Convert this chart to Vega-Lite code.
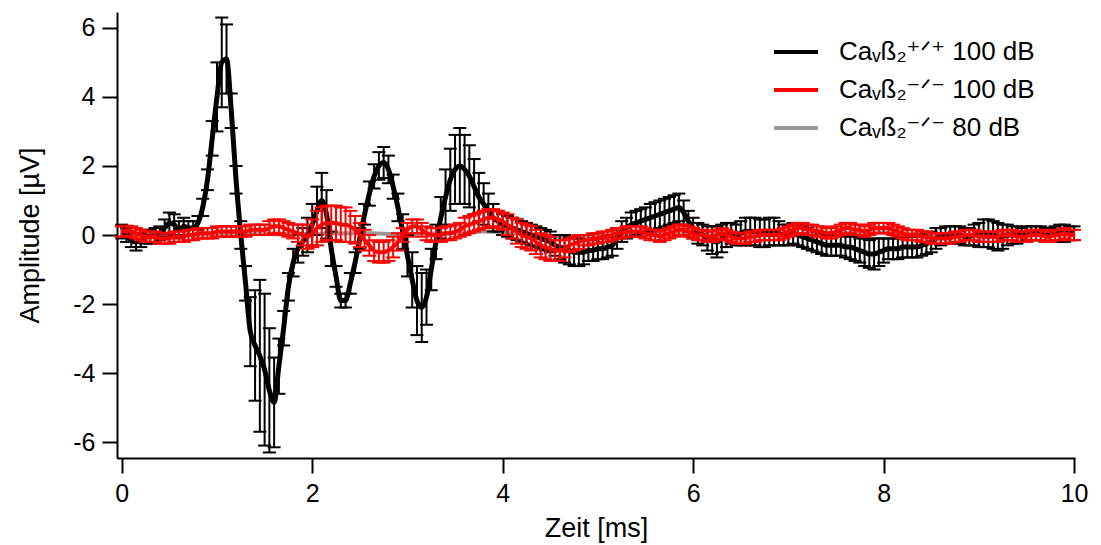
{
"$schema": "https://vega.github.io/schema/vega-lite/v6.json",
"width": 958, "height": 446,
"autosize": {"type": "none"},
"padding": {"left": 117, "top": 12, "right": 26, "bottom": 87},
"background": "white",
"config": {
 "view": {"stroke": null},
 "font": "Liberation Sans",
 "axis": {"domainColor": "#000", "domainWidth": 2, "tickColor": "#000", "tickWidth": 2, "tickSize": 15, "labelFontSize": 25, "labelColor": "#000", "titleFontSize": 27, "titleFontWeight": "normal", "titleColor": "#000", "grid": false, "labelFont": "Liberation Sans", "titleFont": "Liberation Sans", "labelExpr": "'' + datum.value"},
 "legend": {"labelFont": "Liberation Sans, DejaVu Sans"}
},
"datasets": {
 "black": [
{"t":0,"y":0.1,"e":0.2},{"t":0.05,"y":0,"e":0.2},{"t":0.1,"y":-0.15,"e":0.2},{"t":0.15,"y":-0.2,"e":0.25},{"t":0.2,"y":-0.15,"e":0.2},{"t":0.25,"y":-0.05,"e":0.2},{"t":0.3,"y":-0.05,"e":0.2},{"t":0.35,"y":0,"e":0.2},{"t":0.4,"y":0.05,"e":0.2},{"t":0.45,"y":0.2,"e":0.25},
{"t":0.5,"y":0.35,"e":0.3},{"t":0.55,"y":0.3,"e":0.3},{"t":0.6,"y":0.15,"e":0.25},{"t":0.65,"y":0.25,"e":0.25},{"t":0.7,"y":0.2,"e":0.2},{"t":0.75,"y":0.2,"e":0.2},{"t":0.8,"y":0.35,"e":0.2},{"t":0.85,"y":0.8,"e":0.25},{"t":0.9,"y":1.6,"e":0.3},{"t":0.95,"y":2.8,"e":0.5},
{"t":1,"y":4,"e":1},{"t":1.05,"y":5,"e":1.3},{"t":1.1,"y":5.1,"e":1},{"t":1.15,"y":3.6,"e":0.5},{"t":1.2,"y":1.6,"e":0.4},{"t":1.25,"y":0,"e":0.4},{"t":1.3,"y":-1.4,"e":0.5},{"t":1.35,"y":-2.8,"e":1},{"t":1.4,"y":-3.2,"e":1.6},{"t":1.45,"y":-3.5,"e":2.2},
{"t":1.5,"y":-3.9,"e":2.2},{"t":1.55,"y":-4.5,"e":1.8},{"t":1.6,"y":-4.85,"e":1.3},{"t":1.65,"y":-3.8,"e":0.8},{"t":1.7,"y":-2.7,"e":0.5},{"t":1.75,"y":-1.5,"e":0.4},{"t":1.8,"y":-0.8,"e":0.4},{"t":1.85,"y":-0.4,"e":0.4},{"t":1.9,"y":-0.2,"e":0.4},{"t":1.95,"y":0,"e":0.5},
{"t":2,"y":0.3,"e":0.6},{"t":2.05,"y":0.7,"e":0.7},{"t":2.1,"y":1,"e":0.8},{"t":2.15,"y":0.6,"e":0.7},{"t":2.2,"y":-0.4,"e":0.5},{"t":2.25,"y":-1.2,"e":0.3},{"t":2.3,"y":-1.9,"e":0.2},{"t":2.35,"y":-1.9,"e":0.2},{"t":2.4,"y":-1.4,"e":0.3},{"t":2.45,"y":-0.8,"e":0.3},
{"t":2.5,"y":-0.1,"e":0.3},{"t":2.55,"y":0.6,"e":0.3},{"t":2.6,"y":1.2,"e":0.35},{"t":2.65,"y":1.7,"e":0.35},{"t":2.7,"y":2,"e":0.4},{"t":2.75,"y":2.1,"e":0.45},{"t":2.8,"y":1.9,"e":0.4},{"t":2.85,"y":1.4,"e":0.35},{"t":2.9,"y":0.8,"e":0.4},{"t":2.95,"y":0.1,"e":0.5},
{"t":3,"y":-0.6,"e":0.6},{"t":3.05,"y":-1.3,"e":0.8},{"t":3.1,"y":-1.9,"e":1},{"t":3.15,"y":-2.1,"e":1},{"t":3.2,"y":-1.8,"e":0.8},{"t":3.25,"y":-1,"e":0.6},{"t":3.3,"y":-0.2,"e":0.5},{"t":3.35,"y":0.5,"e":0.6},{"t":3.4,"y":1.1,"e":0.8},{"t":3.45,"y":1.6,"e":0.9},
{"t":3.5,"y":1.9,"e":1},{"t":3.55,"y":2,"e":1.1},{"t":3.6,"y":1.9,"e":1},{"t":3.65,"y":1.7,"e":0.9},{"t":3.7,"y":1.4,"e":0.8},{"t":3.75,"y":1.1,"e":0.7},{"t":3.8,"y":0.9,"e":0.6},{"t":3.85,"y":0.7,"e":0.5},{"t":3.9,"y":0.5,"e":0.4},{"t":3.95,"y":0.4,"e":0.3},
{"t":4,"y":0.3,"e":0.3},{"t":4.05,"y":0.25,"e":0.3},{"t":4.1,"y":0.2,"e":0.3},{"t":4.15,"y":0.15,"e":0.3},{"t":4.2,"y":0.1,"e":0.3},{"t":4.25,"y":0.05,"e":0.3},{"t":4.3,"y":0,"e":0.3},{"t":4.35,"y":-0.05,"e":0.3},{"t":4.4,"y":-0.1,"e":0.3},{"t":4.45,"y":-0.15,"e":0.3},
{"t":4.5,"y":-0.2,"e":0.3},{"t":4.55,"y":-0.3,"e":0.3},{"t":4.6,"y":-0.35,"e":0.35},{"t":4.65,"y":-0.4,"e":0.4},{"t":4.7,"y":-0.45,"e":0.4},{"t":4.75,"y":-0.5,"e":0.4},{"t":4.8,"y":-0.5,"e":0.4},{"t":4.85,"y":-0.5,"e":0.35},{"t":4.9,"y":-0.45,"e":0.3},{"t":4.95,"y":-0.45,"e":0.3},
{"t":5,"y":-0.4,"e":0.3},{"t":5.05,"y":-0.4,"e":0.3},{"t":5.1,"y":-0.35,"e":0.3},{"t":5.15,"y":-0.3,"e":0.3},{"t":5.2,"y":-0.1,"e":0.3},{"t":5.25,"y":0.1,"e":0.3},{"t":5.3,"y":0.2,"e":0.3},{"t":5.35,"y":0.3,"e":0.35},{"t":5.4,"y":0.35,"e":0.35},{"t":5.45,"y":0.4,"e":0.35},
{"t":5.5,"y":0.45,"e":0.35},{"t":5.55,"y":0.5,"e":0.4},{"t":5.6,"y":0.55,"e":0.4},{"t":5.65,"y":0.6,"e":0.4},{"t":5.7,"y":0.65,"e":0.4},{"t":5.75,"y":0.7,"e":0.4},{"t":5.8,"y":0.75,"e":0.4},{"t":5.85,"y":0.8,"e":0.4},{"t":5.9,"y":0.65,"e":0.35},{"t":5.95,"y":0.4,"e":0.3},
{"t":6,"y":0.2,"e":0.3},{"t":6.05,"y":0.05,"e":0.3},{"t":6.1,"y":0,"e":0.3},{"t":6.15,"y":-0.1,"e":0.35},{"t":6.2,"y":-0.15,"e":0.4},{"t":6.25,"y":-0.2,"e":0.45},{"t":6.3,"y":-0.1,"e":0.4},{"t":6.35,"y":0,"e":0.35},{"t":6.4,"y":0.05,"e":0.3},{"t":6.45,"y":0,"e":0.3},
{"t":6.5,"y":0.05,"e":0.35},{"t":6.55,"y":0.1,"e":0.4},{"t":6.6,"y":0.1,"e":0.4},{"t":6.65,"y":0.1,"e":0.4},{"t":6.7,"y":0.05,"e":0.4},{"t":6.75,"y":0.05,"e":0.4},{"t":6.8,"y":0.1,"e":0.4},{"t":6.85,"y":0.1,"e":0.4},{"t":6.9,"y":0.05,"e":0.35},{"t":6.95,"y":0,"e":0.3},
{"t":7,"y":0,"e":0.3},{"t":7.05,"y":0.05,"e":0.3},{"t":7.1,"y":0,"e":0.3},{"t":7.15,"y":-0.05,"e":0.3},{"t":7.2,"y":-0.1,"e":0.3},{"t":7.25,"y":-0.15,"e":0.3},{"t":7.3,"y":-0.2,"e":0.3},{"t":7.35,"y":-0.25,"e":0.3},{"t":7.4,"y":-0.3,"e":0.3},{"t":7.45,"y":-0.3,"e":0.3},
{"t":7.5,"y":-0.3,"e":0.3},{"t":7.55,"y":-0.3,"e":0.3},{"t":7.6,"y":-0.35,"e":0.3},{"t":7.65,"y":-0.35,"e":0.35},{"t":7.7,"y":-0.4,"e":0.35},{"t":7.75,"y":-0.45,"e":0.35},{"t":7.8,"y":-0.5,"e":0.4},{"t":7.85,"y":-0.55,"e":0.4},{"t":7.9,"y":-0.55,"e":0.45},{"t":7.95,"y":-0.5,"e":0.4},
{"t":8,"y":-0.45,"e":0.35},{"t":8.05,"y":-0.4,"e":0.3},{"t":8.1,"y":-0.4,"e":0.3},{"t":8.15,"y":-0.4,"e":0.3},{"t":8.2,"y":-0.35,"e":0.3},{"t":8.25,"y":-0.35,"e":0.3},{"t":8.3,"y":-0.35,"e":0.3},{"t":8.35,"y":-0.35,"e":0.3},{"t":8.4,"y":-0.3,"e":0.3},{"t":8.45,"y":-0.25,"e":0.3},
{"t":8.5,"y":-0.2,"e":0.3},{"t":8.55,"y":-0.1,"e":0.3},{"t":8.6,"y":-0.05,"e":0.25},{"t":8.65,"y":0,"e":0.25},{"t":8.7,"y":0,"e":0.25},{"t":8.75,"y":0,"e":0.25},{"t":8.8,"y":0,"e":0.25},{"t":8.85,"y":-0.05,"e":0.25},{"t":8.9,"y":-0.05,"e":0.25},{"t":8.95,"y":0,"e":0.3},
{"t":9,"y":0,"e":0.35},{"t":9.05,"y":0.05,"e":0.4},{"t":9.1,"y":0.05,"e":0.4},{"t":9.15,"y":0,"e":0.4},{"t":9.2,"y":-0.05,"e":0.4},{"t":9.25,"y":-0.05,"e":0.35},{"t":9.3,"y":0,"e":0.3},{"t":9.35,"y":0,"e":0.25},{"t":9.4,"y":0,"e":0.25},{"t":9.45,"y":0,"e":0.2},
{"t":9.5,"y":0.05,"e":0.2},{"t":9.55,"y":0.05,"e":0.2},{"t":9.6,"y":0.05,"e":0.2},{"t":9.65,"y":0.05,"e":0.2},{"t":9.7,"y":0,"e":0.2},{"t":9.75,"y":0,"e":0.2},{"t":9.8,"y":0.05,"e":0.2},{"t":9.85,"y":0.05,"e":0.25},{"t":9.9,"y":0.05,"e":0.25},{"t":9.95,"y":0.05,"e":0.2},
{"t":10,"y":0.05,"e":0.2}
 ],
 "red": [
{"t":0,"y":0.1,"e":0.15},{"t":0.05,"y":0.12,"e":0.15},{"t":0.1,"y":0.1,"e":0.15},{"t":0.15,"y":0.05,"e":0.15},{"t":0.2,"y":0,"e":0.15},{"t":0.25,"y":-0.05,"e":0.15},{"t":0.3,"y":-0.05,"e":0.15},{"t":0.35,"y":-0.05,"e":0.15},{"t":0.4,"y":-0.1,"e":0.15},{"t":0.45,"y":-0.1,"e":0.15},
{"t":0.5,"y":-0.1,"e":0.15},{"t":0.55,"y":-0.05,"e":0.15},{"t":0.6,"y":-0.05,"e":0.15},{"t":0.65,"y":-0.05,"e":0.15},{"t":0.7,"y":0,"e":0.15},{"t":0.75,"y":0,"e":0.15},{"t":0.8,"y":0.05,"e":0.15},{"t":0.85,"y":0.05,"e":0.15},{"t":0.9,"y":0.05,"e":0.15},{"t":0.95,"y":0.05,"e":0.15},
{"t":1,"y":0.1,"e":0.15},{"t":1.05,"y":0.1,"e":0.15},{"t":1.1,"y":0.1,"e":0.15},{"t":1.15,"y":0.1,"e":0.15},{"t":1.2,"y":0.1,"e":0.15},{"t":1.25,"y":0.1,"e":0.15},{"t":1.3,"y":0.1,"e":0.15},{"t":1.35,"y":0.15,"e":0.15},{"t":1.4,"y":0.15,"e":0.15},{"t":1.45,"y":0.15,"e":0.15},
{"t":1.5,"y":0.15,"e":0.15},{"t":1.55,"y":0.2,"e":0.2},{"t":1.6,"y":0.25,"e":0.2},{"t":1.65,"y":0.25,"e":0.2},{"t":1.7,"y":0.2,"e":0.2},{"t":1.75,"y":0.15,"e":0.2},{"t":1.8,"y":0.1,"e":0.2},{"t":1.85,"y":0.05,"e":0.25},{"t":1.9,"y":0,"e":0.3},{"t":1.95,"y":-0.05,"e":0.35},
{"t":2,"y":0.05,"e":0.4},{"t":2.05,"y":0.2,"e":0.5},{"t":2.1,"y":0.3,"e":0.5},{"t":2.15,"y":0.35,"e":0.5},{"t":2.2,"y":0.35,"e":0.5},{"t":2.25,"y":0.35,"e":0.5},{"t":2.3,"y":0.3,"e":0.5},{"t":2.35,"y":0.3,"e":0.5},{"t":2.4,"y":0.25,"e":0.45},{"t":2.45,"y":0.15,"e":0.4},
{"t":2.5,"y":0,"e":0.35},{"t":2.55,"y":-0.15,"e":0.3},{"t":2.6,"y":-0.3,"e":0.3},{"t":2.65,"y":-0.45,"e":0.3},{"t":2.7,"y":-0.5,"e":0.3},{"t":2.75,"y":-0.5,"e":0.3},{"t":2.8,"y":-0.45,"e":0.3},{"t":2.85,"y":-0.35,"e":0.3},{"t":2.9,"y":-0.2,"e":0.25},{"t":2.95,"y":0,"e":0.2},
{"t":3,"y":0.15,"e":0.2},{"t":3.05,"y":0.25,"e":0.2},{"t":3.1,"y":0.25,"e":0.2},{"t":3.15,"y":0.15,"e":0.2},{"t":3.2,"y":0.05,"e":0.2},{"t":3.25,"y":0,"e":0.2},{"t":3.3,"y":0,"e":0.2},{"t":3.35,"y":0,"e":0.2},{"t":3.4,"y":0.05,"e":0.2},{"t":3.45,"y":0.05,"e":0.2},
{"t":3.5,"y":0.1,"e":0.2},{"t":3.55,"y":0.15,"e":0.2},{"t":3.6,"y":0.25,"e":0.25},{"t":3.65,"y":0.3,"e":0.25},{"t":3.7,"y":0.35,"e":0.25},{"t":3.75,"y":0.4,"e":0.25},{"t":3.8,"y":0.45,"e":0.25},{"t":3.85,"y":0.5,"e":0.25},{"t":3.9,"y":0.5,"e":0.25},{"t":3.95,"y":0.45,"e":0.25},
{"t":4,"y":0.4,"e":0.25},{"t":4.05,"y":0.3,"e":0.3},{"t":4.1,"y":0.2,"e":0.3},{"t":4.15,"y":0.1,"e":0.35},{"t":4.2,"y":0,"e":0.35},{"t":4.25,"y":-0.05,"e":0.35},{"t":4.3,"y":-0.1,"e":0.35},{"t":4.35,"y":-0.2,"e":0.35},{"t":4.4,"y":-0.3,"e":0.35},{"t":4.45,"y":-0.35,"e":0.35},
{"t":4.5,"y":-0.4,"e":0.35},{"t":4.55,"y":-0.45,"e":0.3},{"t":4.6,"y":-0.45,"e":0.3},{"t":4.65,"y":-0.4,"e":0.25},{"t":4.7,"y":-0.3,"e":0.2},{"t":4.75,"y":-0.25,"e":0.2},{"t":4.8,"y":-0.2,"e":0.2},{"t":4.85,"y":-0.15,"e":0.15},{"t":4.9,"y":-0.15,"e":0.15},{"t":4.95,"y":-0.1,"e":0.15},
{"t":5,"y":-0.1,"e":0.15},{"t":5.05,"y":-0.05,"e":0.15},{"t":5.1,"y":-0.05,"e":0.15},{"t":5.15,"y":0,"e":0.15},{"t":5.2,"y":0.05,"e":0.15},{"t":5.25,"y":0.05,"e":0.15},{"t":5.3,"y":0.1,"e":0.15},{"t":5.35,"y":0.1,"e":0.15},{"t":5.4,"y":0.1,"e":0.15},{"t":5.45,"y":0.1,"e":0.15},
{"t":5.5,"y":0.05,"e":0.15},{"t":5.55,"y":0,"e":0.15},{"t":5.6,"y":0,"e":0.15},{"t":5.65,"y":-0.05,"e":0.15},{"t":5.7,"y":0,"e":0.15},{"t":5.75,"y":0.05,"e":0.15},{"t":5.8,"y":0.1,"e":0.15},{"t":5.85,"y":0.15,"e":0.15},{"t":5.9,"y":0.15,"e":0.15},{"t":5.95,"y":0.1,"e":0.15},
{"t":6,"y":0.05,"e":0.15},{"t":6.05,"y":0,"e":0.15},{"t":6.1,"y":0,"e":0.15},{"t":6.15,"y":-0.05,"e":0.15},{"t":6.2,"y":-0.05,"e":0.15},{"t":6.25,"y":0,"e":0.15},{"t":6.3,"y":0.05,"e":0.15},{"t":6.35,"y":0,"e":0.15},{"t":6.4,"y":-0.05,"e":0.15},{"t":6.45,"y":-0.1,"e":0.15},
{"t":6.5,"y":-0.1,"e":0.15},{"t":6.55,"y":-0.1,"e":0.15},{"t":6.6,"y":-0.05,"e":0.15},{"t":6.65,"y":-0.05,"e":0.15},{"t":6.7,"y":0,"e":0.15},{"t":6.75,"y":0,"e":0.15},{"t":6.8,"y":0,"e":0.15},{"t":6.85,"y":0,"e":0.15},{"t":6.9,"y":0,"e":0.15},{"t":6.95,"y":0.05,"e":0.15},
{"t":7,"y":0.1,"e":0.15},{"t":7.05,"y":0.15,"e":0.15},{"t":7.1,"y":0.2,"e":0.15},{"t":7.15,"y":0.2,"e":0.15},{"t":7.2,"y":0.15,"e":0.15},{"t":7.25,"y":0.15,"e":0.15},{"t":7.3,"y":0.1,"e":0.15},{"t":7.35,"y":0.1,"e":0.15},{"t":7.4,"y":0.05,"e":0.15},{"t":7.45,"y":0.05,"e":0.15},
{"t":7.5,"y":0.1,"e":0.15},{"t":7.55,"y":0.15,"e":0.15},{"t":7.6,"y":0.2,"e":0.15},{"t":7.65,"y":0.2,"e":0.15},{"t":7.7,"y":0.15,"e":0.15},{"t":7.75,"y":0.15,"e":0.15},{"t":7.8,"y":0.1,"e":0.15},{"t":7.85,"y":0.15,"e":0.15},{"t":7.9,"y":0.2,"e":0.15},{"t":7.95,"y":0.2,"e":0.15},
{"t":8,"y":0.2,"e":0.15},{"t":8.05,"y":0.2,"e":0.15},{"t":8.1,"y":0.15,"e":0.15},{"t":8.15,"y":0.1,"e":0.15},{"t":8.2,"y":0.05,"e":0.15},{"t":8.25,"y":0,"e":0.15},{"t":8.3,"y":0,"e":0.15},{"t":8.35,"y":0,"e":0.15},{"t":8.4,"y":-0.05,"e":0.15},{"t":8.45,"y":-0.05,"e":0.15},
{"t":8.5,"y":-0.1,"e":0.15},{"t":8.55,"y":-0.1,"e":0.15},{"t":8.6,"y":-0.1,"e":0.15},{"t":8.65,"y":-0.1,"e":0.15},{"t":8.7,"y":-0.1,"e":0.15},{"t":8.75,"y":-0.05,"e":0.15},{"t":8.8,"y":-0.05,"e":0.15},{"t":8.85,"y":0,"e":0.15},{"t":8.9,"y":0,"e":0.15},{"t":8.95,"y":0,"e":0.15},
{"t":9,"y":-0.05,"e":0.15},{"t":9.05,"y":-0.05,"e":0.15},{"t":9.1,"y":-0.05,"e":0.15},{"t":9.15,"y":-0.05,"e":0.15},{"t":9.2,"y":-0.05,"e":0.15},{"t":9.25,"y":0,"e":0.15},{"t":9.3,"y":0,"e":0.15},{"t":9.35,"y":0,"e":0.15},{"t":9.4,"y":-0.05,"e":0.15},{"t":9.45,"y":-0.05,"e":0.15},
{"t":9.5,"y":-0.05,"e":0.15},{"t":9.55,"y":0,"e":0.15},{"t":9.6,"y":0,"e":0.15},{"t":9.65,"y":0,"e":0.15},{"t":9.7,"y":-0.05,"e":0.15},{"t":9.75,"y":-0.05,"e":0.15},{"t":9.8,"y":0,"e":0.15},{"t":9.85,"y":0,"e":0.15},{"t":9.9,"y":0.05,"e":0.15},{"t":9.95,"y":0,"e":0.15},
{"t":10,"y":0,"e":0.15}
 ],
 "grey": [
{"t":0,"y":0.05},{"t":0.2,"y":0.02},{"t":0.4,"y":-0.02},{"t":0.6,"y":-0.02},{"t":0.8,"y":0},{"t":1,"y":0.02},{"t":1.2,"y":0.03},{"t":1.4,"y":0.05},{"t":1.6,"y":0.05},{"t":1.8,"y":0.04},
{"t":2,"y":0.03},{"t":2.2,"y":0.04},{"t":2.4,"y":0.05},{"t":2.6,"y":0.05},{"t":2.8,"y":0.03},{"t":3,"y":0.03},{"t":3.2,"y":0.04},{"t":3.4,"y":0.05},{"t":3.6,"y":0.07},{"t":3.8,"y":0.1},
{"t":4,"y":0.08},{"t":4.2,"y":0.03},{"t":4.4,"y":-0.02},{"t":4.6,"y":-0.06},{"t":4.8,"y":-0.04},{"t":5,"y":-0.02},{"t":5.2,"y":0},{"t":5.4,"y":0.02},{"t":5.6,"y":0.03},{"t":5.8,"y":0.03},
{"t":6,"y":0.02},{"t":6.2,"y":0},{"t":6.4,"y":0},{"t":6.6,"y":0.02},{"t":6.8,"y":0.03},{"t":7,"y":0.03},{"t":7.2,"y":0.03},{"t":7.4,"y":0.04},{"t":7.6,"y":0.06},{"t":7.8,"y":0.08},
{"t":8,"y":0.08},{"t":8.2,"y":0.05},{"t":8.4,"y":0.02},{"t":8.6,"y":0},{"t":8.8,"y":0},{"t":9,"y":0.02},{"t":9.2,"y":0.05},{"t":9.4,"y":0.08},{"t":9.6,"y":0.07},{"t":9.8,"y":0.05},{"t":10,"y":0.05}
 ]
},
"encoding": {
 "x": {"field": "t", "type": "quantitative", "scale": {"domain": [-0.05, 10.01], "nice": false, "zero": false},
   "axis": {"values": [0, 2, 4, 6, 8, 10], "title": "Zeit [ms]", "labelPadding": 8, "titlePadding": 9, "labelFlush": false}},
 "y": {"field": "y", "type": "quantitative", "scale": {"domain": [-6.46, 6.46], "nice": false, "zero": false},
   "axis": {"values": [-6, -4, -2, 0, 2, 4, 6], "title": "Amplitude [µV]", "labelPadding": 7, "titlePadding": 28}}
},
"layer": [
 {"data": {"name": "grey"}, "mark": {"type": "line", "strokeWidth": 4, "interpolate": "monotone"},
  "encoding": {"color": {"datum": "Caᵥß₂⁻ᐟ⁻ 80 dB", "type": "nominal",
    "scale": {"domain": ["Caᵥß₂⁺ᐟ⁺ 100 dB", "Caᵥß₂⁻ᐟ⁻ 100 dB", "Caᵥß₂⁻ᐟ⁻ 80 dB"], "range": ["#000000", "#ff0000", "#999999"]},
    "legend": {"orient": "none", "legendX": 655, "legendY": 16, "title": null, "labelFontSize": 26, "labelLimit": 400, "labelColor": "#000", "symbolType": "stroke", "symbolStrokeWidth": 4, "symbolSize": 1936, "rowPadding": 1, "labelOffset": 19, "padding": 0}}}},
 {"data": {"name": "black"}, "mark": {"type": "errorbar", "color": "#000000", "opacity": 1, "thickness": 2, "rule": {"color": "#000000", "opacity": 1, "strokeWidth": 2}, "ticks": {"color": "#000000", "opacity": 1, "size": 13, "thickness": 2}},
  "encoding": {"yError": {"field": "e"}}},
 {"data": {"name": "black"}, "mark": {"type": "line", "strokeWidth": 5, "interpolate": "monotone"},
  "encoding": {"color": {"datum": "Caᵥß₂⁺ᐟ⁺ 100 dB", "type": "nominal"}}},
 {"data": {"name": "red"}, "mark": {"type": "errorbar", "color": "#ff0000", "opacity": 1, "thickness": 2, "rule": {"color": "#ff0000", "opacity": 1, "strokeWidth": 2}, "ticks": {"color": "#ff0000", "opacity": 1, "size": 14, "thickness": 2}},
  "encoding": {"yError": {"field": "e"}}},
 {"data": {"name": "red"}, "mark": {"type": "line", "strokeWidth": 4, "interpolate": "monotone"},
  "encoding": {"color": {"datum": "Caᵥß₂⁻ᐟ⁻ 100 dB", "type": "nominal"}}}
]
}
